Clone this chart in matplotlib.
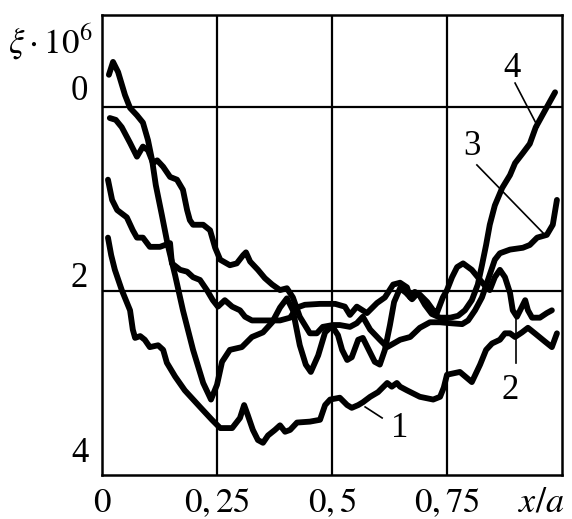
import matplotlib
matplotlib.use("Agg")
import matplotlib.pyplot as plt

plt.rcParams['font.family'] = 'serif'
plt.rcParams['font.serif'] = ['Liberation Serif', 'DejaVu Serif']
plt.rcParams['mathtext.fontset'] = 'stix'

# curve 1
x1 = [0.013, 0.020, 0.028, 0.043, 0.061, 0.067, 0.072, 0.083, 0.093, 0.104, 0.122, 0.133,
      0.141, 0.159, 0.180, 0.213, 0.239, 0.257, 0.283, 0.300, 0.309, 0.317, 0.328, 0.339,
      0.350, 0.361, 0.376, 0.387, 0.398, 0.409, 0.424, 0.452, 0.474, 0.485, 0.496, 0.517,
      0.533, 0.543, 0.557, 0.567, 0.583, 0.600, 0.620, 0.630, 0.641, 0.648, 0.663, 0.691,
      0.720, 0.735, 0.743, 0.750, 0.778, 0.804, 0.822, 0.835, 0.848, 0.865, 0.876, 0.887,
      0.898, 0.913, 0.926, 0.941, 0.963, 0.978, 0.989]
y1 = [1.42, 1.61, 1.77, 1.99, 2.21, 2.42, 2.51, 2.49, 2.53, 2.61, 2.59, 2.64,
      2.78, 2.93, 3.08, 3.26, 3.40, 3.49, 3.49, 3.38, 3.24, 3.35, 3.51, 3.62,
      3.65, 3.57, 3.51, 3.46, 3.53, 3.51, 3.43, 3.42, 3.40, 3.24, 3.18, 3.16,
      3.24, 3.27, 3.24, 3.21, 3.15, 3.10, 3.00, 3.04, 3.00, 3.04, 3.08, 3.15,
      3.18, 3.15, 3.05, 2.91, 2.88, 2.99, 2.80, 2.64, 2.57, 2.53, 2.46, 2.46,
      2.50, 2.45, 2.40, 2.46, 2.55, 2.61, 2.46]

# curve 2
x2 = [0.013, 0.022, 0.033, 0.054, 0.067, 0.076, 0.089, 0.104, 0.126, 0.148, 0.152, 0.170,
      0.185, 0.198, 0.213, 0.228, 0.241, 0.252, 0.267, 0.283, 0.300, 0.311, 0.326, 0.354,
      0.387, 0.409, 0.424, 0.441, 0.474, 0.507, 0.528, 0.539, 0.554, 0.576, 0.598, 0.615,
      0.633, 0.648, 0.663, 0.670, 0.680, 0.691, 0.707, 0.720, 0.728, 0.741, 0.750, 0.761,
      0.772, 0.785, 0.804, 0.822, 0.837, 0.843, 0.854, 0.865, 0.876, 0.887, 0.893, 0.902,
      0.913, 0.920, 0.926, 0.935, 0.952, 0.967, 0.978]
y2 = [0.79, 1.01, 1.12, 1.20, 1.34, 1.42, 1.42, 1.52, 1.52, 1.48, 1.70, 1.77,
      1.79, 1.85, 1.88, 1.99, 2.10, 2.17, 2.10, 2.17, 2.21, 2.28, 2.32, 2.32,
      2.32, 2.29, 2.18, 2.15, 2.14, 2.14, 2.17, 2.26, 2.17, 2.24, 2.13, 2.07,
      1.93, 1.91, 1.96, 2.07, 2.01, 2.04, 2.12, 2.21, 2.24, 2.07, 1.99, 1.85,
      1.74, 1.70, 1.77, 1.88, 1.97, 1.99, 1.85, 1.77, 1.85, 2.02, 2.21, 2.28,
      2.17, 2.10, 2.21, 2.29, 2.29, 2.24, 2.21]

# curve 3
x3 = [0.017, 0.030, 0.043, 0.061, 0.076, 0.089, 0.100, 0.111, 0.120, 0.133, 0.148, 0.163,
      0.176, 0.185, 0.191, 0.198, 0.220, 0.235, 0.246, 0.257, 0.278, 0.293, 0.307, 0.313,
      0.322, 0.339, 0.354, 0.370, 0.387, 0.402, 0.415, 0.430, 0.452, 0.467, 0.480, 0.502,
      0.517, 0.539, 0.554, 0.567, 0.583, 0.604, 0.620, 0.648, 0.670, 0.691, 0.713, 0.735,
      0.757, 0.783, 0.796, 0.811, 0.826, 0.839, 0.854, 0.865, 0.887, 0.915, 0.930, 0.946,
      0.967, 0.980, 0.989]
y3 = [0.12, 0.14, 0.22, 0.39, 0.54, 0.43, 0.47, 0.61, 0.58, 0.65, 0.76, 0.79,
      0.90, 1.12, 1.23, 1.28, 1.28, 1.34, 1.53, 1.66, 1.72, 1.70, 1.61, 1.58,
      1.68, 1.77, 1.86, 1.93, 1.99, 1.97, 2.07, 2.28, 2.46, 2.46, 2.39, 2.37,
      2.37, 2.39, 2.35, 2.28, 2.42, 2.53, 2.61, 2.53, 2.50, 2.40, 2.34, 2.34,
      2.35, 2.36, 2.32, 2.21, 2.07, 1.88, 1.66, 1.59, 1.55, 1.53, 1.50, 1.42,
      1.39, 1.28, 1.01]

# curve 4
x4 = [0.015, 0.024, 0.035, 0.050, 0.061, 0.076, 0.089, 0.100, 0.109, 0.117, 0.130, 0.143,
      0.159, 0.176, 0.198, 0.220, 0.237, 0.250, 0.261, 0.278, 0.304, 0.326, 0.350, 0.370,
      0.387, 0.402, 0.415, 0.430, 0.443, 0.454, 0.470, 0.485, 0.500, 0.513, 0.522, 0.533,
      0.543, 0.557, 0.567, 0.578, 0.593, 0.604, 0.615, 0.626, 0.635, 0.648, 0.661, 0.674,
      0.687, 0.702, 0.717, 0.735, 0.757, 0.774, 0.789, 0.804, 0.817, 0.826, 0.835, 0.843,
      0.854, 0.870, 0.887, 0.898, 0.915, 0.930, 0.943, 0.965, 0.985]
y4 = [-0.35, -0.49, -0.38, -0.13, 0.01, 0.09, 0.17, 0.36, 0.58, 0.85, 1.17, 1.50,
      1.83, 2.21, 2.64, 3.00, 3.18, 3.02, 2.77, 2.64, 2.61, 2.50, 2.45, 2.34,
      2.18, 2.08, 2.21, 2.59, 2.80, 2.88, 2.70, 2.45, 2.38, 2.48, 2.64, 2.75,
      2.72, 2.53, 2.51, 2.62, 2.77, 2.80, 2.64, 2.37, 2.12, 1.97, 2.02, 2.09,
      2.02, 2.15, 2.25, 2.29, 2.29, 2.27, 2.21, 2.10, 1.93, 1.72, 1.50, 1.28,
      1.07, 0.88, 0.74, 0.61, 0.50, 0.40, 0.22, 0.02, -0.16]

curves = [(x1, y1), (x2, y2), (x3, y3), (x4, y4)]

xticks = [0, 0.25, 0.5, 0.75]
xticklabels = ['$0$', '$0,25$', '$0,5$', '$0,75$']
ygrid = [0, 2]
ylabels = ['0', '2', '4']

fig = plt.figure(figsize=(5.72, 5.19), dpi=100)
ax = fig.add_axes([0.1783, 0.0848, 0.8042, 0.8863])

for xs, ys in curves:
    ax.plot(xs, ys, color='black', lw=4.2, solid_capstyle='round',
            solid_joinstyle='round')

ax.set_xlim(0, 1)
ax.set_ylim(4, -1)

for v in xticks[1:]:
    ax.axvline(v, color='black', lw=1.6)
for v in ygrid:
    ax.axhline(v, color='black', lw=1.6)
for s in ax.spines.values():
    s.set_linewidth(1.8)

ax.set_xticks(xticks)
ax.set_xticklabels(xticklabels, fontsize=25)
ax.tick_params(axis='x', length=0, pad=9)
ax.set_yticks([])

# y labels sit just above their lines
ylab_pos = [-0.076, 1.957, 3.86]
for lab, yp in zip(ylabels, ylab_pos):
    ax.text(-0.03, yp, lab, ha='right', va='baseline', fontsize=25, clip_on=False)

ax.text(-0.113, -0.71, r'$\xi\cdot10^6$', ha='center', va='center',
        fontsize=25, clip_on=False)
ax.text(0.955, 4.30, r'$x/a$', ha='center', va='center', fontsize=26,
        clip_on=False)

# curve numbers with leader lines
ax.plot([0.572, 0.609], [3.26, 3.38], color='black', lw=1.2)
ax.text(0.648, 3.49, '1', ha='center', va='center', fontsize=25)
ax.plot([0.900, 0.900], [2.29, 2.78], color='black', lw=1.2)
ax.text(0.887, 3.08, '2', ha='center', va='center', fontsize=25)
ax.plot([0.815, 0.959], [0.63, 1.37], color='black', lw=1.2)
ax.text(0.804, 0.43, '3', ha='center', va='center', fontsize=25)
ax.plot([0.898, 0.948], [-0.26, 0.22], color='black', lw=1.2)
ax.text(0.891, -0.42, '4', ha='center', va='center', fontsize=25)

fig.savefig('out.png', dpi=100)
